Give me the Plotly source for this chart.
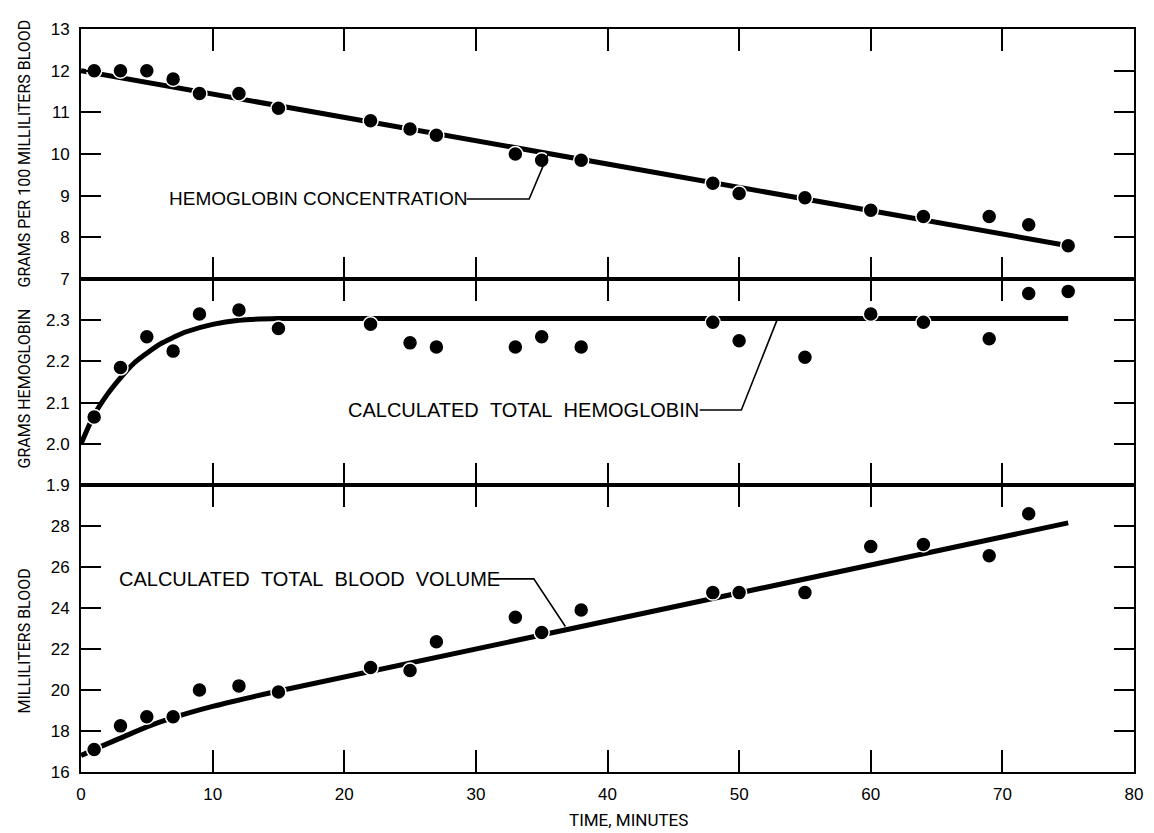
import plotly.graph_objects as go

# ---------------- data ----------------
time_min = [1, 3, 5, 7, 9, 12, 15, 22, 25, 27, 33, 35, 38, 48, 50, 55, 60, 64, 69, 72, 75]

hb_conc = [12.0, 12.0, 12.0, 11.8, 11.45, 11.45, 11.1, 10.8, 10.6, 10.45, 10.0, 9.85,
           9.85, 9.3, 9.05, 8.95, 8.65, 8.5, 8.5, 8.3, 7.8]
hb_conc_fit_x = [0, 75]
hb_conc_fit_y = [12.0, 7.8]

hb_total = [2.065, 2.185, 2.26, 2.225, 2.315, 2.325, 2.28, 2.29, 2.245, 2.235, 2.235,
            2.26, 2.235, 2.295, 2.25, 2.21, 2.315, 2.295, 2.255, 2.365, 2.37]
hb_total_fit_x = [0, 1, 2, 3, 4, 5, 6, 7, 8, 10, 12, 15, 75]
hb_total_fit_y = [2.0, 2.07, 2.12, 2.16, 2.195, 2.22, 2.242, 2.258, 2.272, 2.29, 2.3, 2.304, 2.304]

blood_vol = [17.1, 18.25, 18.7, 18.7, 20.0, 20.2, 19.9, 21.1, 20.95, 22.35, 23.55, 22.8,
             23.9, 24.75, 24.75, 24.75, 27.0, 27.1, 26.55, 28.6, None]
blood_vol_fit_x = [0, 1, 3, 5, 7, 10, 15, 75]
blood_vol_fit_y = [16.8, 17.1, 17.65, 18.2, 18.65, 19.2, 19.95, 28.15]

x_ticks = [0, 10, 20, 30, 40, 50, 60, 70, 80]
top_ticks = [7, 8, 9, 10, 11, 12, 13]
mid_ticks = [1.9, 2.0, 2.1, 2.2, 2.3, 2.4]
mid_labels = ["1.9", "2.0", "2.1", "2.2", "2.3", ""]
bot_ticks = [16, 18, 20, 22, 24, 26, 28, 30]
bot_labels = ["16", "18", "20", "22", "24", "26", "28", ""]

# labels with leader lines: (text, size, text x, text y, leader path xs, ys)
label_conc = ("HEMOGLOBIN\u00a0CONCENTRATION", 19, 6.5, 8.94, [29.3, 34.05, 35.56], [8.92, 8.92, 10.05])
label_tot = ("CALCULATED\u00a0\u00a0TOTAL\u00a0\u00a0HEMOGLOBIN", 20, 20.1, 2.083, [47.0, 50.17, 52.9], [2.082, 2.082, 2.302])
label_vol = ("CALCULATED\u00a0\u00a0TOTAL\u00a0\u00a0BLOOD\u00a0\u00a0VOLUME", 20, 2.7, 25.4, [31.3, 34.4, 36.8], [25.42, 25.42, 23.1])

# ---------------- figure ----------------
BLACK = "#000000"
TITLEFONT = "Roboto, Liberation Sans, Arial, sans-serif"
SANS = "Liberation Sans, Arial, Helvetica, sans-serif"

fig = go.Figure()

panels = [
    ("y", hb_conc, hb_conc_fit_x, hb_conc_fit_y),
    ("y2", hb_total, hb_total_fit_x, hb_total_fit_y),
    ("y3", blood_vol, blood_vol_fit_x, blood_vol_fit_y),
]
xrefs = {"y": "x", "y2": "x2", "y3": "x3"}

for yref, pts, fx, fy in panels:
    fig.add_trace(go.Scatter(
        x=fx, y=fy, mode="lines", xaxis=xrefs[yref], yaxis=yref,
        line=dict(color=BLACK, width=5, shape="spline", smoothing=0.8),
        hoverinfo="skip", showlegend=False))
    fig.add_trace(go.Scatter(
        x=time_min, y=pts, mode="markers", xaxis=xrefs[yref], yaxis=yref,
        marker=dict(color=BLACK, size=15, line=dict(color="white", width=1.5)),
        showlegend=False))

# leader lines + labels
for (txt, fs, tx, ty, lx, ly), (xr, yr) in zip([label_conc, label_tot, label_vol],
                                              [("x", "y"), ("x2", "y2"), ("x3", "y3")]):
    fig.add_trace(go.Scatter(x=lx, y=ly, mode="lines", xaxis=xr, yaxis=yr,
                             line=dict(color=BLACK, width=1.6), hoverinfo="skip",
                             showlegend=False))
    fig.add_annotation(x=tx, y=ty, xref=xr, yref=yr, text=txt, showarrow=False,
                       xanchor="left", yanchor="middle",
                       font=dict(family=SANS, size=fs, color=BLACK))

axis_common = dict(
    showline=True, linewidth=2, linecolor=BLACK, mirror="ticks",
    ticks="inside", tickwidth=2, tickcolor=BLACK, showgrid=False, zeroline=False,
    tickfont=dict(family=SANS, size=17, color=BLACK),
)

d_bot = [0.0, 0.3863]
d_mid = [0.3863, 0.6635]
d_top = [0.6635, 1.0]

for name, dom, show in [("xaxis", d_top, False), ("xaxis2", d_mid, False), ("xaxis3", d_bot, True)]:
    anchor = {"xaxis": "y", "xaxis2": "y2", "xaxis3": "y3"}[name]
    fig.layout[name] = dict(axis_common, range=[0, 80], tickvals=x_ticks, ticklen=22,
                            showticklabels=show, anchor=anchor, domain=[0, 1],
                            ticklabelstandoff=6)

fig.layout["yaxis"] = dict(axis_common, range=[7, 13], tickvals=top_ticks, ticklen=20,
                           domain=d_top, anchor="x", ticklabelstandoff=6)
fig.layout["yaxis2"] = dict(axis_common, range=[1.9, 2.4], tickvals=mid_ticks, ticktext=mid_labels,
                            ticklen=20, domain=d_mid, anchor="x2", ticklabelstandoff=6)
fig.layout["yaxis3"] = dict(axis_common, range=[16, 30], tickvals=bot_ticks, ticktext=bot_labels,
                            ticklen=20, domain=d_bot, anchor="x3", ticklabelstandoff=6)

# axis titles
plot_w = 1154 - 81 - 11
plot_h = 833 - 29 - 61
def px_to_paper_x(px):
    return (px - 81) / plot_w
def px_to_paper_y(py):
    return (833 - 61 - py) / plot_h

for txt, yc in [("GRAMS PER 100 MILLILITERS BLOOD", 153),
                ("GRAMS HEMOGLOBIN", 388),
                ("MILLILITERS BLOOD", 641)]:
    fig.add_annotation(x=px_to_paper_x(24), y=px_to_paper_y(yc), xref="paper", yref="paper", text=txt,
                       textangle=-90, showarrow=False, xanchor="center", yanchor="middle",
                       font=dict(family=TITLEFONT, size=16, color=BLACK))

fig.add_annotation(x=px_to_paper_x(633), y=px_to_paper_y(820), xref="paper", yref="paper",
                   text="TIME, MINUTES", showarrow=False, xanchor="center", yanchor="middle",
                   font=dict(family=TITLEFONT, size=17, color=BLACK))

fig.update_layout(
    width=1154, height=833,
    margin=dict(l=81, r=11, t=29, b=61),
    paper_bgcolor="white", plot_bgcolor="white",
    showlegend=False,
)

fig.write_html("out.html")
